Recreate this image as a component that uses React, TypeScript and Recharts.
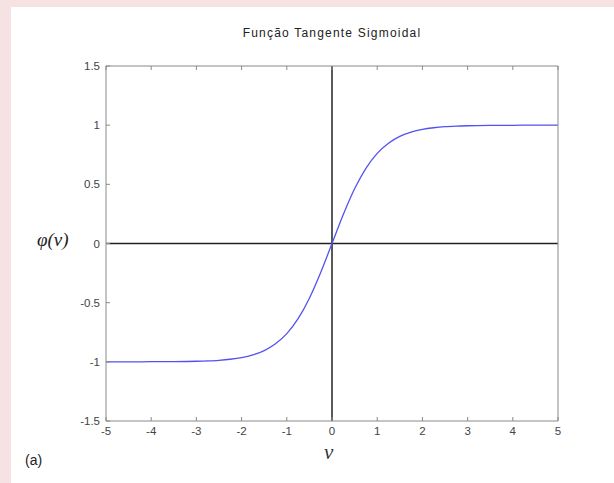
import React from 'react'
import {
  LineChart,
  Line,
  XAxis,
  YAxis,
  ReferenceLine,
} from 'recharts'

// values
const vValues = [
  -5, -4.5, -4, -3.5, -3, -2.75, -2.5, -2.25, -2, -1.75, -1.5, -1.25, -1, -0.75, -0.5, -0.25,
  0, 0.25, 0.5, 0.75, 1, 1.25, 1.5, 1.75, 2, 2.25, 2.5, 2.75, 3, 3.5, 4, 4.5, 5,
]
const phiValues = [
  -1, -1, -0.999, -0.998, -0.995, -0.992, -0.987, -0.978, -0.964, -0.941, -0.905, -0.848, -0.762, -0.635, -0.462, -0.245,
  0, 0.245, 0.462, 0.635, 0.762, 0.848, 0.905, 0.941, 0.964, 0.978, 0.987, 0.992, 0.995, 0.998, 0.999, 1, 1,
]
const xTicks = [-5, -4, -3, -2, -1, 0, 1, 2, 3, 4, 5]
const yTicks = [-1.5, -1, -0.5, 0, 0.5, 1, 1.5]

const data = vValues.map((v, i) => ({ v, phi: phiValues[i] }))

const tickStyle = { fontSize: 11.5, fill: '#444', fontFamily: 'Liberation Sans, Arial, sans-serif' }
const boxColor = '#8a8a8a'

export default function App() {
  return (
    <div style={{ position: 'fixed', left: 0, top: 0, width: 614, height: 483, background: '#f6e2e2' }}>
      <div style={{ position: 'absolute', left: 11, top: 7, right: 0, bottom: 0, background: '#fff' }} />
      <div style={{ position: 'absolute', left: 0, top: 0 }}>
        {/* plot box: x 106..558, y 66..421 */}
        <LineChart width={614} height={483} data={data} margin={{ top: 56, right: 46, bottom: 32, left: 66 }}>
          <XAxis
            dataKey="v"
            type="number"
            domain={[-5, 5]}
            ticks={xTicks}
            height={30}
            tickSize={-4}
            tickMargin={10}
            tick={tickStyle}
            stroke={boxColor}
            tickLine={{ stroke: boxColor }}
            allowDataOverflow
          />
          <XAxis
            xAxisId="top"
            orientation="top"
            dataKey="v"
            type="number"
            domain={[-5, 5]}
            ticks={xTicks}
            height={10}
            tickSize={-4}
            tickFormatter={() => ''}
            stroke={boxColor}
            tickLine={{ stroke: boxColor }}
          />
          <YAxis
            type="number"
            domain={[-1.5, 1.5]}
            ticks={yTicks}
            width={40}
            tickSize={-4}
            tickMargin={10}
            tick={tickStyle}
            stroke={boxColor}
            tickLine={{ stroke: boxColor }}
            allowDataOverflow
          />
          <YAxis
            yAxisId="right"
            orientation="right"
            type="number"
            domain={[-1.5, 1.5]}
            ticks={yTicks}
            width={10}
            tickSize={-4}
            tickFormatter={() => ''}
            stroke={boxColor}
            tickLine={{ stroke: boxColor }}
          />
          <ReferenceLine x={0} stroke="#222" strokeWidth={1.5} />
          <ReferenceLine y={0} stroke="#222" strokeWidth={1.5} />
          <Line
            type="monotone"
            dataKey="phi"
            stroke="#5252f0"
            strokeWidth={1.3}
            dot={false}
            isAnimationActive={false}
          />
        </LineChart>
      </div>
      <div style={{ position: 'absolute', left: 0, width: 614, top: 26, textAlign: 'center', paddingLeft: 50, boxSizing: 'border-box', fontFamily: 'Liberation Sans, Arial, sans-serif', fontSize: 12, letterSpacing: 1.2, color: '#222' }}>
        Função Tangente Sigmoidal
      </div>
      <div style={{ position: 'absolute', left: 37, top: 229, fontFamily: 'Liberation Serif, Times New Roman, serif', fontStyle: 'italic', fontSize: 19, color: '#222' }}>
        φ(v)
      </div>
      <div style={{ position: 'absolute', left: 324, top: 440, fontFamily: 'Liberation Serif, Times New Roman, serif', fontStyle: 'italic', fontSize: 21, color: '#333' }}>
        v
      </div>
      <div style={{ position: 'absolute', left: 25, top: 452, fontFamily: 'Liberation Sans, Arial, sans-serif', fontSize: 14, color: '#222' }}>
        (a)
      </div>
    </div>
  )
}
